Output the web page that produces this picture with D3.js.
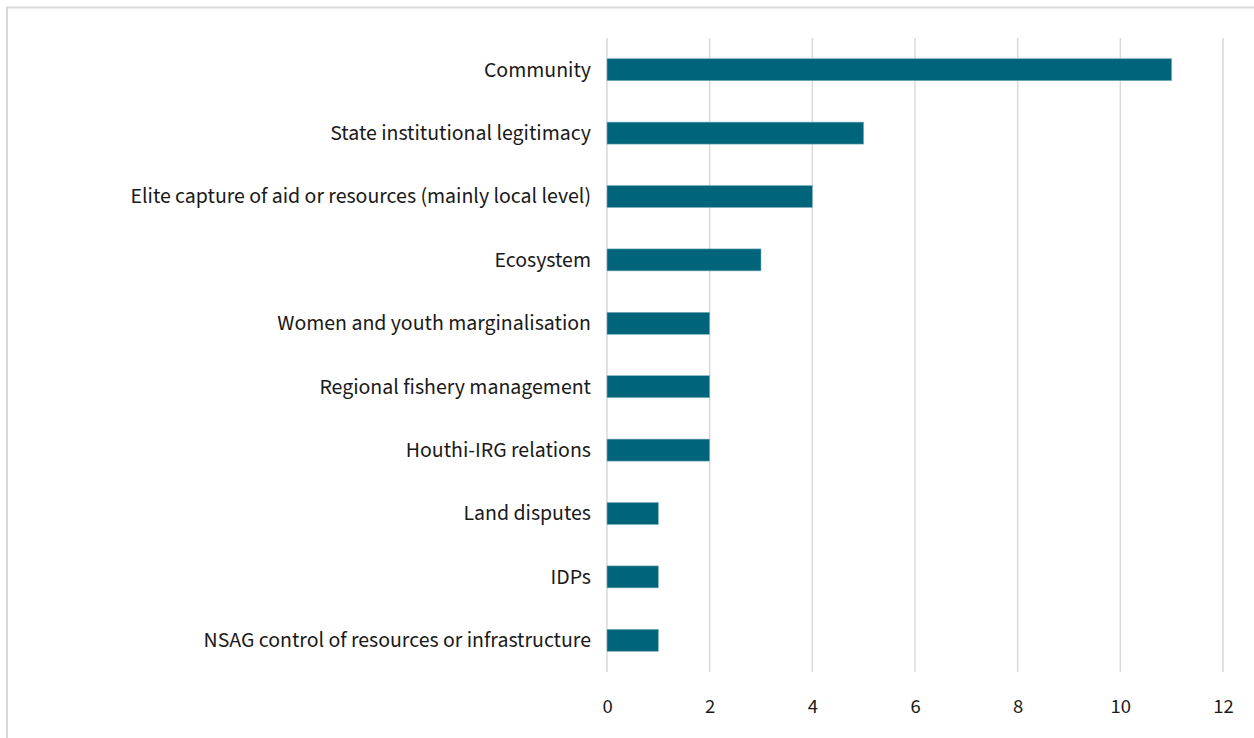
<!DOCTYPE html>
<html><head><meta charset="utf-8">
<script src="https://cdn.jsdelivr.net/npm/d3@7"></script>
<style>body{margin:0;background:#fff}svg{display:block}</style>
</head><body>
<svg id="c" width="1254" height="738"></svg>
<script>
const categories = ["Community","State institutional legitimacy","Elite capture of aid or resources (mainly local level)","Ecosystem","Women and youth marginalisation","Regional fishery management","Houthi-IRG relations","Land disputes","IDPs","NSAG control of resources or infrastructure"];
const values = [11,5,4,3,2,2,2,1,1,1];
const xTicks = [0,2,4,6,8,10,12];

const svg = d3.select("#c");
svg.append("rect").attr("x",7).attr("y",7.5).attr("width",1260).attr("height",760)
  .attr("fill","none").attr("stroke","#d9d9d9").attr("stroke-width",2);

const x = d3.scaleLinear().domain([0,12]).range([607,1223]);
const y = d3.scaleBand().domain(categories).range([38,672]).paddingInner(0.653).paddingOuter(0.3265);

const font = "'Source Sans 3','Source Sans Pro','Noto Sans',sans-serif";

svg.append("g").selectAll("line").data(xTicks).join("line")
  .attr("x1",d=>x(d)).attr("x2",d=>x(d)).attr("y1",38).attr("y2",672)
  .attr("stroke","#d9d9d9").attr("stroke-width",1.5);

svg.append("g").selectAll("rect").data(values).join("rect")
  .attr("x",x(0)).attr("y",(d,i)=>y(categories[i]))
  .attr("width",d=>x(d)-x(0)).attr("height",y.bandwidth())
  .attr("fill","#00657a").attr("stroke","#7fb3bf").attr("stroke-width",0.6);

const xAxis = d3.axisBottom(x).tickValues(xTicks).tickSize(0).tickPadding(0);
const gx = svg.append("g").attr("transform","translate(0,706)").call(xAxis);
gx.select(".domain").remove();
const tl = gx.selectAll("text").attr("dy","0.35em").attr("font-family",font).attr("font-size",20).attr("fill","#1a1a1a");
// scale tick font so "10" is ~20px wide as in the reference
let w10 = 0;
tl.each(function(d){ if(d===10) w10 = this.getComputedTextLength(); });
if (w10 > 0) tl.attr("font-size", 20 * 20.5 / w10);

const yAxis = d3.axisLeft(y).tickSize(0).tickPadding(0);
const gy = svg.append("g").attr("transform","translate(591,0)").call(yAxis);
gy.select(".domain").remove();
const labels = gy.selectAll("text").attr("font-family",font).attr("font-size",20).attr("fill","#1a1a1a").attr("x",0);
let maxW = 0;
labels.each(function(){ maxW = Math.max(maxW, this.getComputedTextLength()); });
labels.attr("font-size", 20 * 461 / maxW);
</script>
</body></html>
